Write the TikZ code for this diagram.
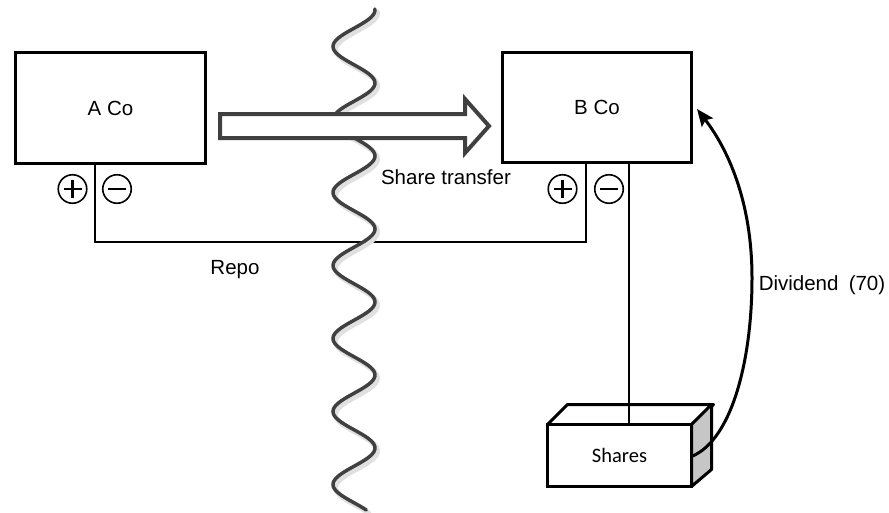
\documentclass[tikz,border=0pt]{standalone}
\usepackage{fontspec}
\setmainfont{Liberation Sans}
\newfontfamily\calibrifont{Carlito}
\usetikzlibrary{arrows.meta,calc}

\begin{document}
\begin{tikzpicture}[x=1pt, y=-1pt,
        company/.style={draw, line width=3pt, outer sep=0pt, minimum width=190pt, minimum height=111pt, font=\fontsize{20.5}{24}\selectfont},
        sign/.style={circle, draw, line width=1.6pt, minimum size=28.5pt, inner sep=0pt},
        plussign/.style={sign, path picture={\draw[line width=2.6pt] ($(path picture bounding box.center)+(-9,0)$) -- ++(18,0) ($(path picture bounding box.center)+(0,-9)$) -- ++(0,18);}},
        minussign/.style={sign, path picture={\draw[line width=2.6pt] ($(path picture bounding box.center)+(-9,0)$) -- ++(18,0);}},
        link/.style={line width=2pt},
        lbl/.style={font=\fontsize{20.5}{24}\selectfont}]
        \useasboundingbox (0,0) rectangle (889,512);

        % Companies
        \node[company] (aco) at (110.5,108) {A Co};
        \node[company, minimum width=189pt, minimum height=110pt] (bco) at (597,107.5) {B Co};

        % Plus / minus signs
        \foreach \n/\x/\s in {ap/72.5/plussign, am/117/minussign, bp/562.5/plussign, bm/609/minussign} {
            \node[\s] (\n) at (\x,189) {};
        }
        \coordinate (atap) at ($(ap.east)!0.5!(am.west)$);
        \coordinate (btap) at ($(bp.east)!0.5!(bm.west)$);
        \coordinate (bleg) at ($(bm.east)+(4.5,0)$);

        % Shares
        \node[draw, line width=3pt, outer sep=0pt, minimum width=144pt, minimum height=62pt, font=\calibrifont\fontsize{20.5}{24}\selectfont] (shares) at (619.5,455.5) {Shares};
        \draw[line width=3pt, line join=round] (shares.north west) -- ++(20,-20) -- ++(146,0) -- (shares.north east);
        \filldraw[fill=gray!45, line width=3pt, line join=round] (shares.north east) -- ++(20,-20) -- ++(0,65) -- (shares.south east) -- cycle;

        % Repo and holding lines
        \draw[link] (aco.south -| atap) -- ++(0,78.5) -| (bco.south -| btap);
        \draw[link] (bco.south -| bleg) -- (shares.north -| bleg);

        % Border
        \draw[black!12, line width=5pt, line cap=round, shift={(2.5,3)}]
            plot[domain=9:510, samples=240, smooth, variable=\t] ({354+21*cos((\t-10)*4.9315)}, \t);
        \draw[black!75, line width=3.5pt, line cap=round]
            plot[domain=9:510, samples=240, smooth, variable=\t] ({354+21*cos((\t-10)*4.9315)}, \t);

        % Share transfer arrow
        \draw[black!75, line width=4pt, fill=white, line join=miter]
            (220,114) -- (465,114) -- (465,99) -- (489,126) -- (465,153) -- (465,138) -- (220,138) -- cycle;

        % Dividend
        \draw[line width=3pt, -{Stealth[length=17pt, width=14pt, inset=3pt]}]
            ($(shares.east)+(0,1)$) .. controls (732,440) and (752,360) .. (752,278)
            .. controls (752,200) and (727,148) .. ($(bco.east)+(5.5,1.5)$);

        % Labels
        \node[lbl] (xferlbl) at (446,177) {Share transfer};
        \node[lbl] (repolbl) at (235,270) {Repo};
        \node[lbl] (divlbl) at (822,285) {Dividend\hspace{0.5em}(70)};
\end{tikzpicture}
\end{document}
